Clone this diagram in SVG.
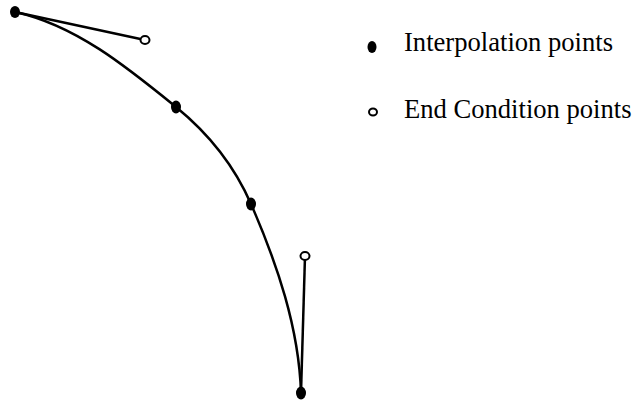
<svg xmlns="http://www.w3.org/2000/svg" width="634" height="403" viewBox="0 0 634 403">
<style>
.ln{fill:none;stroke:#000;stroke-width:2.5}
.ip{fill:#000}
.ec{fill:#fff;stroke:#000;stroke-width:2}
.t{font-family:"Liberation Serif",serif;font-size:26.6px;fill:#000}
</style>
<rect width="634" height="403" fill="#fff"/>
<g id="connectors">
<path class="ln" d="M15,12 L145,40"/>
<path class="ln" d="M301,393 L305,256"/>
<path class="ln" d="M15,12 C75.6,25 127.9,67.9 176,107 C207.8,132.9 234.6,166.4 251,204 C277,263.5 299,328 301,393"/>
</g>
<g id="p0"><ellipse class="ip" cx="15" cy="12" rx="5" ry="6"/></g>
<g id="p1"><ellipse class="ip" cx="176" cy="107" rx="5" ry="6.5"/></g>
<g id="p2"><ellipse class="ip" cx="251" cy="204" rx="5" ry="6.5"/></g>
<g id="p3"><ellipse class="ip" cx="301" cy="393" rx="5" ry="6.5"/></g>
<g id="e0"><ellipse class="ec" cx="145" cy="40" rx="4.5" ry="4"/></g>
<g id="e1"><ellipse class="ec" cx="305" cy="256" rx="4.5" ry="4"/></g>
<g id="legend-interp"><ellipse class="ip" cx="372" cy="47" rx="4.5" ry="6"/><text class="t" x="404" y="51">Interpolation points</text></g>
<g id="legend-end"><ellipse class="ec" cx="373" cy="112" rx="4" ry="3.5"/><text class="t" x="404" y="118">End Condition points</text></g>
</svg>
